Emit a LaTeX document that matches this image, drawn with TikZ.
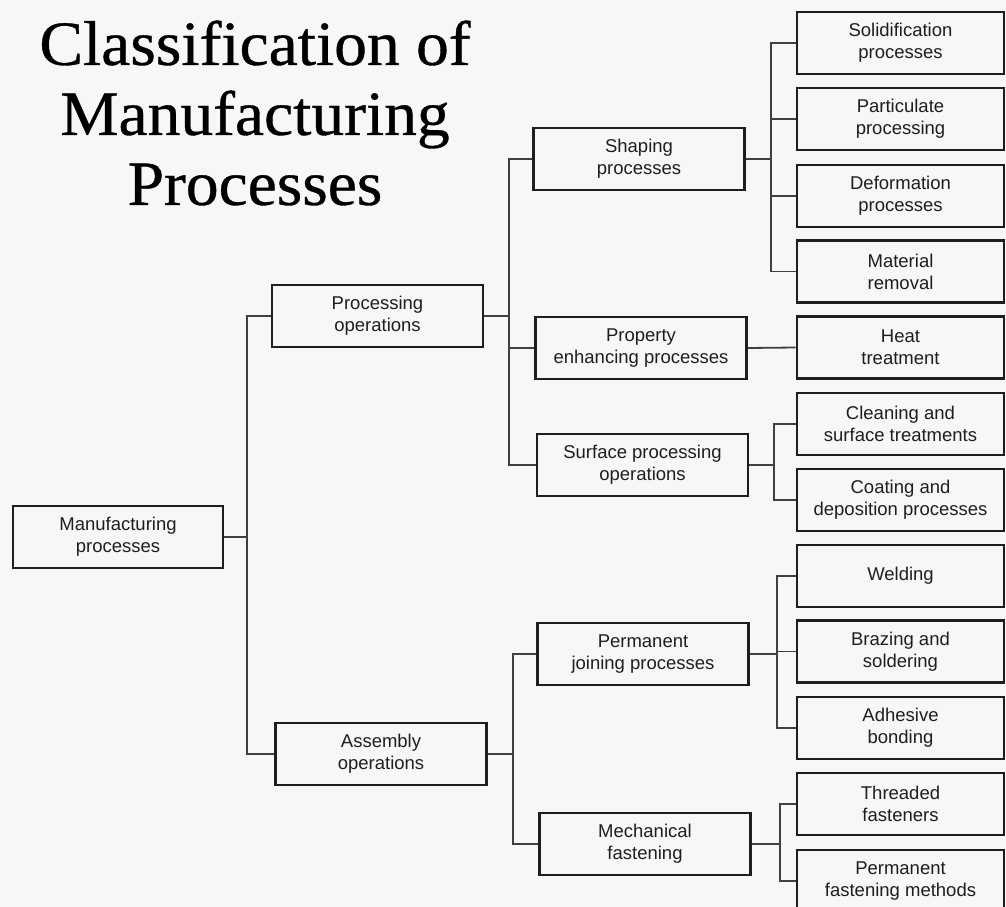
\documentclass[tikz,border=0pt]{standalone}
\usepackage{fontspec}
\setmainfont{Liberation Sans}
\newfontfamily\titlefont[FakeStretch=1.04,FakeBold=0.6]{Liberation Serif}
\definecolor{bg}{HTML}{F7F7F7}
\definecolor{ink}{HTML}{1E1E1E}
\begin{document}
\begin{tikzpicture}[x=1pt,y=-1pt,
  box/.style={draw=ink, line width=2.6pt, fill=bg, text=ink, align=center,
    minimum height=62pt, inner sep=0pt,
    font=\fontsize{18.5}{22}\selectfont},
  lbox/.style={box, minimum width=211pt},
  rbox/.style={box, minimum width=207pt},
  link/.style={draw=ink!85, line width=1.8pt}]
\fill[bg] (0,0) rectangle (1006,907);
\useasboundingbox (0,0) rectangle (1006,907);

% title
\node[font=\titlefont\fontsize{63}{70}\selectfont, text=black, align=center, anchor=north]
  (title) at (255,17) {Classification of\\Manufacturing\\Processes};

% level 0
\node[box, minimum width=210pt] (mp) at (118,537) {Manufacturing\\processes};
% level 1
\node[lbox] (po) at (377.5,316) {Processing\\operations};
\node[lbox] (ao) at (381,754) {Assembly\\operations};
% level 2
\node[lbox] (sp) at (639,159) {Shaping\\processes};
\node[lbox] (pe) at (641,348) {Property\\enhancing processes};
\node[lbox] (so) at (642.5,465) {Surface processing\\operations};
\node[lbox] (pj) at (643,654) {Permanent\\joining processes};
\node[lbox] (mf) at (645,844) {Mechanical\\fastening};
% level 3
\node[rbox] (sol) at (900.5,43) {Solidification\\processes};
\node[rbox] (par) at (900.5,119) {Particulate\\processing};
\node[rbox] (def) at (900.5,196) {Deformation\\processes};
\node[rbox] (mat) at (900.5,271.5) {Material\\removal};
\node[rbox] (heat) at (900.5,347.5) {Heat\\treatment};
\node[rbox] (cle) at (900.5,424) {Cleaning and\\surface treatments};
\node[rbox] (coa) at (900.5,500) {Coating and\\deposition processes};
\node[rbox] (wel) at (900.5,576) {Welding};
\node[rbox] (bra) at (900.5,651.5) {Brazing and\\soldering};
\node[rbox] (adh) at (900.5,728) {Adhesive\\bonding};
\node[rbox] (thr) at (900.5,804) {Threaded\\fasteners};
\node[rbox] (pfm) at (900.5,881) {Permanent\\fastening methods};

% connectors
\foreach \c in {po,ao} \draw[link] (mp.east) -- ++(23,0) |- (\c.west);
\foreach \c in {sp,pe,so} \draw[link] (po.east) -- ++(25,0) |- (\c.west);
\foreach \c in {pj,mf} \draw[link] (ao.east) -- ++(25,0) |- (\c.west);
\foreach \c in {sol,par,def,mat} \draw[link] (sp.east) -- ++(25,0) |- (\c.west);
\draw[link] (pe.east) -- (heat.west);
\foreach \c in {cle,coa} \draw[link] (so.east) -- ++(25,0) |- (\c.west);
\foreach \c in {wel,bra,adh} \draw[link] (pj.east) -- ++(27,0) |- (\c.west);
\foreach \c in {thr,pfm} \draw[link] (mf.east) -- ++(28,0) |- (\c.west);
\end{tikzpicture}
\end{document}
